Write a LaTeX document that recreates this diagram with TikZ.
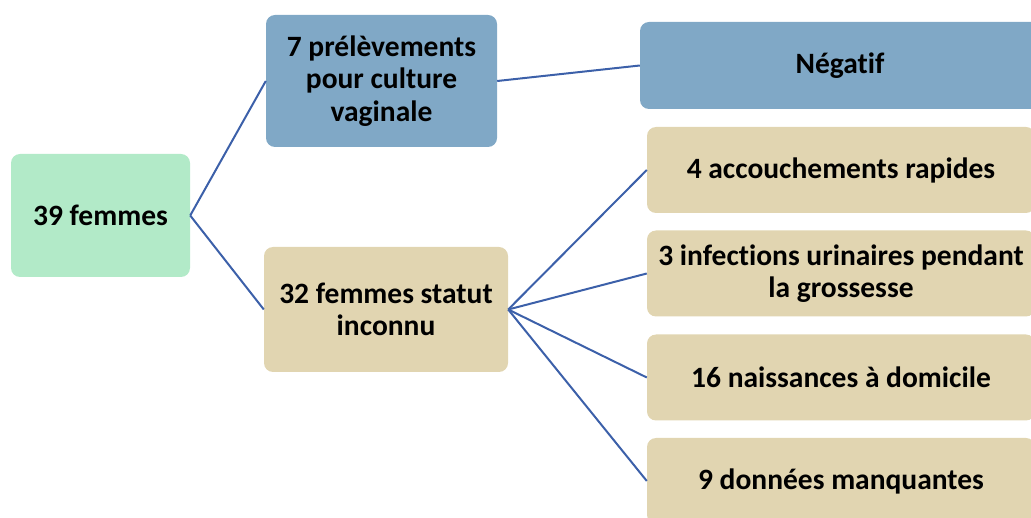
\documentclass[tikz,border=0pt]{standalone}
\usepackage{fontspec}
\setmainfont{Carlito}[Ligatures=NoCommon]
\usepackage{tikz}
\usetikzlibrary{
  positioning
}
\definecolor{link}{HTML}{3C60A9}
\definecolor{mint}{HTML}{B2EAC8}
\definecolor{steel}{HTML}{80A8C6}
\definecolor{sand}{HTML}{E1D5B1}
\tikzset{
  box/.style={
    rounded corners=9pt,
    align=center,
    inner sep=2pt,
    font=\fontsize{29.5}{32.5}\selectfont\bfseries
  },
  rootbox/.style={
    box,
    fill=mint,
    minimum width=179pt,
    minimum height=123pt
  },
  testbox/.style={
    box,
    fill=steel
  },
  groupbox/.style={
    box,
    fill=sand
  },
  leafbox/.style={
    groupbox,
    minimum width=388pt,
    minimum height=86pt
  },
  link/.style={
    draw=link,
    line width=2pt
  }
}

\begin{document}
\begin{tikzpicture}[x=1pt, y=-1pt]
  \useasboundingbox (0,0) rectangle (1031,518);
  \clip (0,0) rectangle (1031,518);
  \node[rootbox] (root) at (100.5,215.5) {39 femmes};
  \node[testbox, minimum width=231pt, minimum height=132pt]
    (prel) at (381.5,81) {7 prélèvements\\pour culture\\vaginale};
  \node[groupbox, minimum width=244pt, minimum height=125pt]
    (statut) at (386,309.5) {32 femmes statut\\inconnu};
  \node[testbox, minimum width=400pt, minimum height=87pt]
    (neg) at (840,65.5) {Négatif};
  \node[leafbox] (rapide) at (841,170) {4 accouchements rapides};
  \node[leafbox] (urin) at (841,273.5) {3 infections urinaires pendant\\la grossesse};
  \node[leafbox] (domic) at (841,377.5) {16 naissances à domicile};
  \node[leafbox] (manq) at (841,481) {9 données manquantes};

  \draw[link] (root.east) -- (prel.west);
  \draw[link] (root.east) -- (statut.west);
  \draw[link] (prel.east) -- (neg.west);
  \foreach \leaf in {rapide, urin, domic, manq}
    \draw[link] (statut.east) -- (\leaf.west);
\end{tikzpicture}
\end{document}
